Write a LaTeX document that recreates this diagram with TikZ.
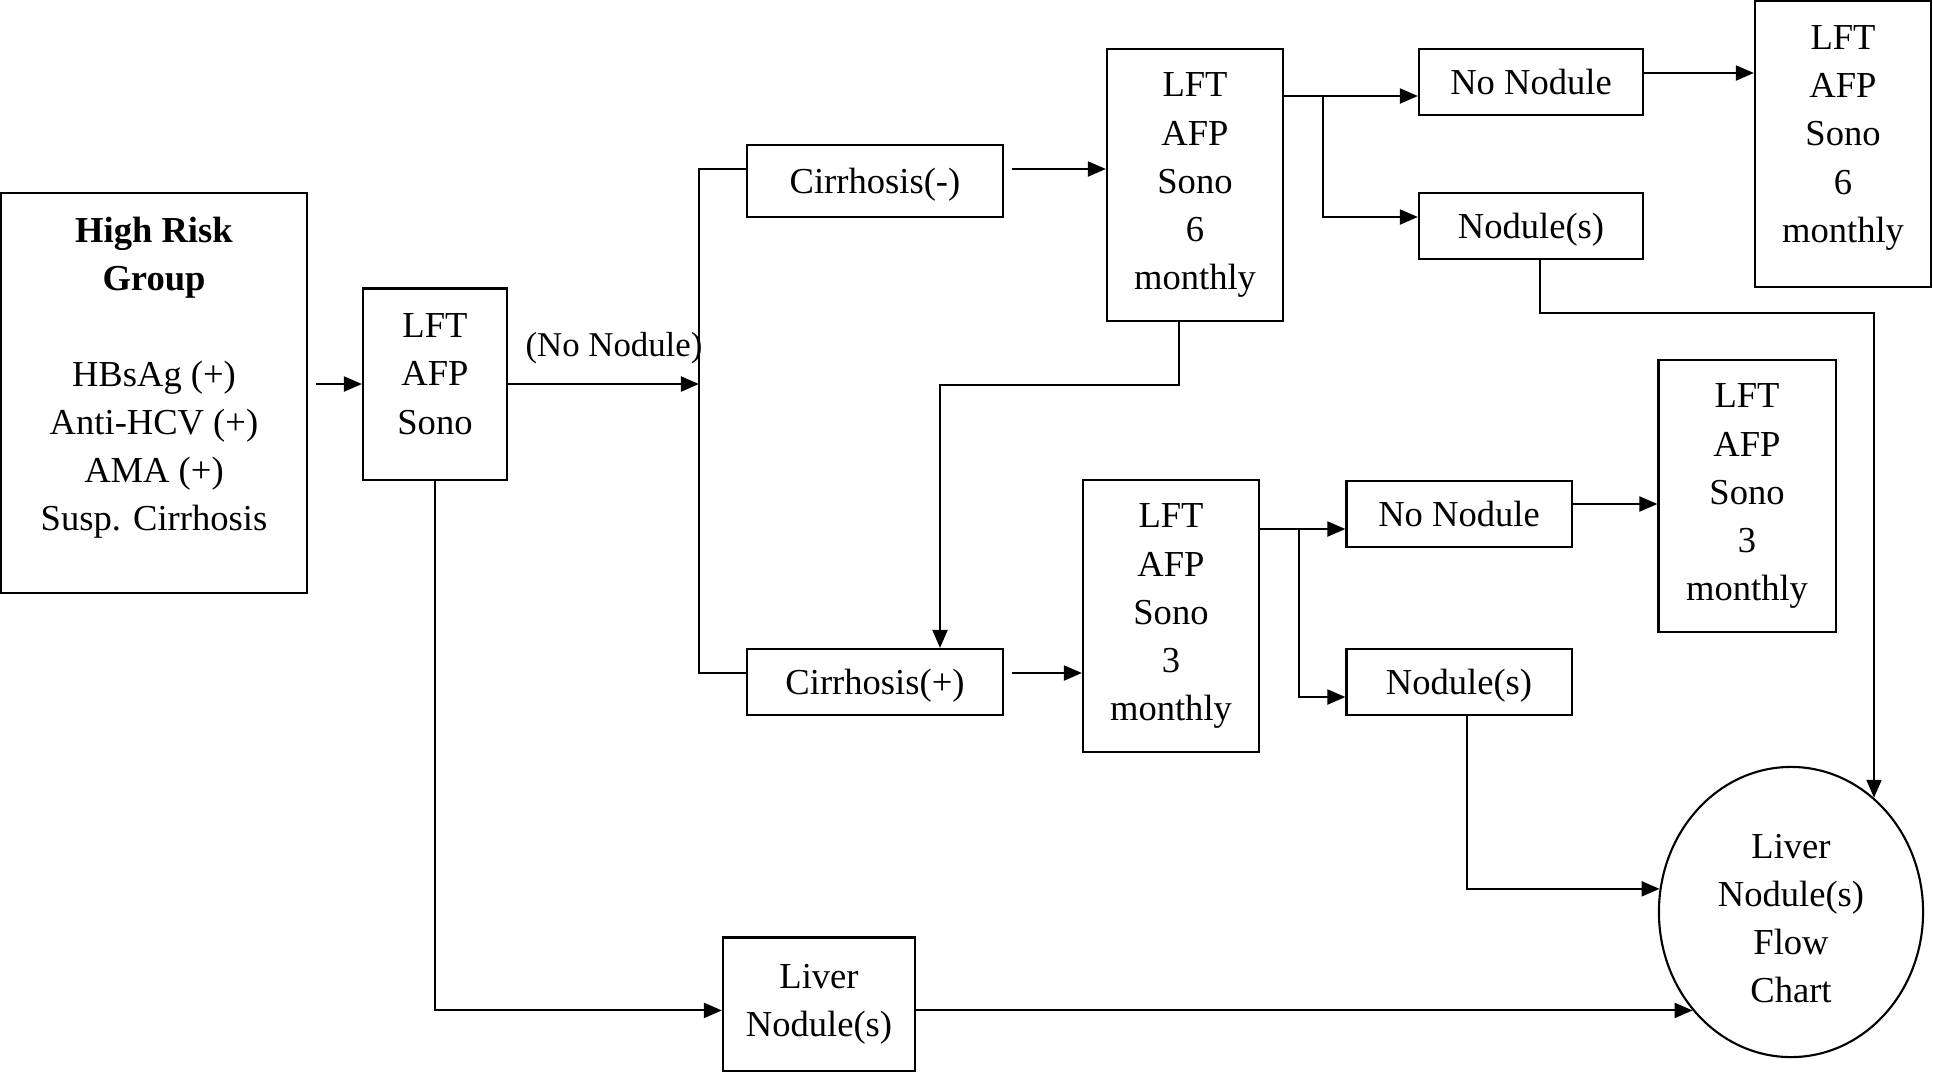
\documentclass[tikz,border=0pt]{standalone}
\usepackage{fontspec}
\setmainfont{Liberation Serif}
\usetikzlibrary{arrows.meta,shapes.geometric}

\begin{document}
\begin{tikzpicture}[x=0.01cm, y=-0.01cm, font=\fontsize{10.4}{13.66}\selectfont,
        flowbox/.style={draw, line width=0.6pt, align=center, inner sep=0pt},
        onebox/.style={flowbox, text height=0.25cm, text depth=0cm},
        arr/.style={-{Triangle[length=1.8mm,width=1.5mm]}, line width=0.6pt}]

                \useasboundingbox (0,0) rectangle (1933,1072);

                \node[flowbox, minimum width=3.06cm, minimum height=4.00cm] (HR) at (154,393) {\textbf{High Risk}\\\textbf{Group}\\[0.48cm]HBsAg (+)\\Anti-HCV (+)\\AMA (+)\\Susp. Cirrhosis\rule[-0.38cm]{0pt}{0pt}};
                \node[flowbox, minimum width=1.44cm, minimum height=1.91cm] (LFTa) at (435,384) {LFT\\AFP\\Sono\rule[-0.2cm]{0pt}{0pt}};
                \node[font=\fontsize{9.9}{13}\selectfont] (NoNodLbl) at (614,348) {(No Nodule)};
                \node[onebox, minimum width=2.56cm, minimum height=0.72cm] (CirrNeg) at (875,181) {Cirrhosis(-)};
                \node[onebox, minimum width=2.56cm, minimum height=0.66cm] (CirrPos) at (875,682) {Cirrhosis(+)};
                \node[flowbox, minimum width=1.76cm, minimum height=2.72cm] (LFTsix) at (1195,185) {LFT\\AFP\\Sono\\6\\monthly};
                \node[flowbox, minimum width=1.76cm, minimum height=2.71cm] (LFTthree) at (1171,616) {LFT\\AFP\\Sono\\3\\monthly};
                \node[onebox, minimum width=2.24cm, minimum height=0.66cm] (NoNodSix) at (1531,82) {No Nodule};
                \node[onebox, minimum width=2.24cm, minimum height=0.66cm] (NodSix) at (1531,226) {Nodule(s)};
                \node[flowbox, minimum width=1.76cm, minimum height=2.85cm] (LFTsixB) at (1843,144) {LFT\\AFP\\Sono\\6\\monthly\rule[-0.2cm]{0pt}{0pt}};
                \node[onebox, minimum width=2.25cm, minimum height=0.66cm] (NoNodThree) at (1459,514) {No Nodule};
                \node[onebox, minimum width=2.25cm, minimum height=0.66cm] (NodThree) at (1459,682) {Nodule(s)};
                \node[flowbox, minimum width=1.77cm, minimum height=2.71cm] (LFTthreeB) at (1747,496) {LFT\\AFP\\Sono\\3\\monthly};
                \node[flowbox, ellipse, minimum width=2.64cm, minimum height=2.90cm] (Flow) at (1791,912) {\rule{0pt}{0.37cm}Liver\\Nodule(s)\\Flow\\Chart};
                \node[flowbox, minimum width=1.92cm, minimum height=1.33cm] (Liver) at (819,1004) {Liver\\Nodule(s)};

                \coordinate (Split) at (699,384);
                \coordinate (JoinSix) at (1323,96);
                \coordinate (JoinThree) at (1299,529);

                \draw[arr, shorten <=0.08cm] (HR.east |- LFTa) -- (LFTa);
                \draw[arr] (LFTa.east) -- (Split);
                \draw[line width=0.6pt] (CirrNeg.west |- 0,169) -| (Split) |- (CirrPos.west |- 0,673);
                \draw[arr, shorten <=0.08cm] (CirrNeg.east |- 0,169) -- (LFTsix.west |- 0,169);
                \draw[arr, shorten <=0.08cm] (CirrPos.east |- 0,673) -- (LFTthree.west |- 0,673);
                \draw[arr] (LFTsix.south -| 1179,0) |- (940,385) -- (CirrPos.north -| 940,0);
                \draw[arr] (LFTsix.east |- JoinSix) -- (NoNodSix.west |- JoinSix);
                \draw[arr] (JoinSix) |- (NodSix.west |- 0,217);
                \draw[arr] (NoNodSix.east |- 0,73) -- (LFTsixB.west |- 0,73);
                \draw[arr] (NodSix.south -| 1540,0) |- (1874,313) -- (1874,313 |- Flow.54);
                \draw[arr] (LFTthree.east |- JoinThree) -- (NoNodThree.west |- JoinThree);
                \draw[arr] (JoinThree) |- (NodThree.west |- 0,697);
                \draw[arr] (NoNodThree.east |- 0,504) -- (LFTthreeB.west |- 0,504);
                \draw[arr] (NodThree.south -| 1467,0) |- (Flow.170);
                \draw[arr] (LFTa.south) |- (Liver.west |- Flow.225);
                \draw[arr] (Liver.east |- Flow.225) -- (Flow.225);
            \end{tikzpicture}
\end{document}
